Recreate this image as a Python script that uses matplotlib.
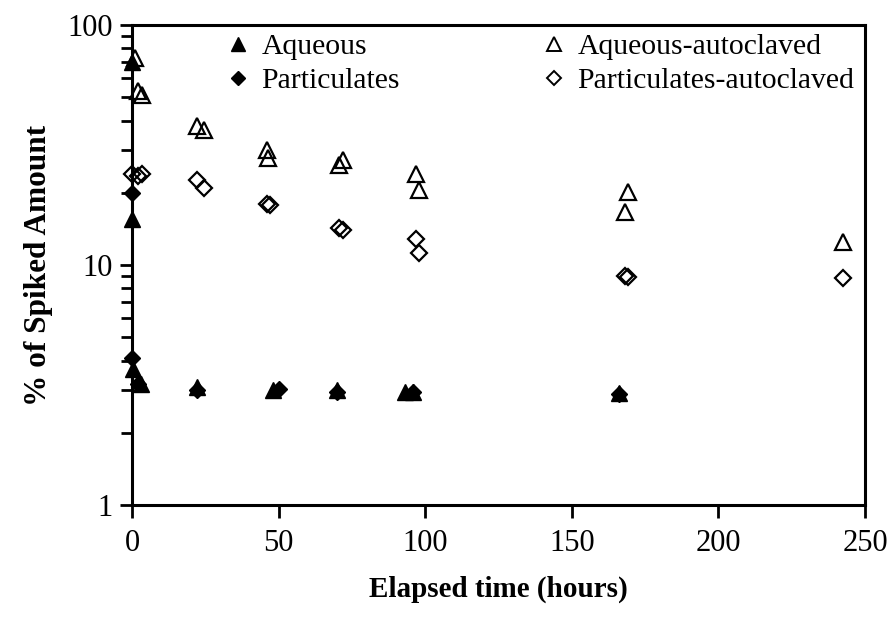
import matplotlib
matplotlib.use("Agg")
import matplotlib.pyplot as plt
from matplotlib.ticker import LogLocator, NullFormatter
from matplotlib.lines import Line2D

plt.rcParams['font.family'] = ['Liberation Serif', 'DejaVu Serif']

# hours, % of spiked amount
aq_x = [0, 0, 0.5, 3, 22, 48, 70, 93, 96, 166]
aq_y = [70, 15.5, 3.7, 3.2, 3.1, 3.0, 3.0, 2.95, 2.95, 2.92]

part_x = [0, 0, 2, 22, 50, 70, 96, 166]
part_y = [20, 4.1, 3.2, 3.0, 3.05, 2.95, 2.95, 2.9]

aq_auto_x = [1, 2, 3.5, 22, 24.5, 46, 46.5, 70.5, 72, 97, 98, 168, 169, 242.5]
aq_auto_y = [73, 53, 51, 38, 36.5, 30, 28, 26, 27.5, 24, 20.5, 16.7, 20.2, 12.5]

part_auto_x = [0, 2, 3.5, 22, 24.5, 46, 47, 70.5, 72, 96.8, 98, 168, 169, 242.5]
part_auto_y = [24, 23.5, 24, 22.6, 20.9, 18, 17.7, 14.3, 14, 12.8, 11.2, 9.0, 8.9, 8.85]

fig = plt.figure(figsize=(8.9, 6.24), dpi=100)
ax = fig.add_axes([132/890, 1 - 505/624, 733/890, 480/624])

ms = 12
ax.plot(aq_auto_x, aq_auto_y, ls='none', marker='^', ms=ms, mfc='none', mec='black', mew=1.6, clip_on=False)
ax.plot(part_auto_x, part_auto_y, ls='none', marker='D', ms=ms*0.72, mfc='none', mec='black', mew=1.6, clip_on=False)
ax.plot(part_x, part_y, ls='none', marker='D', ms=ms*0.72, mfc='black', mec='black', mew=1, clip_on=False)
ax.plot(aq_x, aq_y, ls='none', marker='^', ms=ms, mfc='black', mec='black', mew=1, clip_on=False)

ax.set_xlim(0, 250)
ax.set_yscale('log')
ax.set_ylim(1, 100)
ax.set_xticks([0, 50, 100, 150, 200, 250])
ax.set_yticks([1, 10, 100])
ax.set_yticklabels(['1', '10', '100'])
ax.yaxis.set_minor_locator(LogLocator(base=10, subs=range(2, 10)))
ax.yaxis.set_minor_formatter(NullFormatter())

for s in ax.spines.values():
    s.set_linewidth(2.2)
ax.tick_params(axis='both', which='major', direction='out', length=9, width=2, labelsize=22, pad=8)
ax.tick_params(axis='y', which='minor', direction='out', length=8, width=2)
ax.tick_params(axis='y', which='major', pad=5)

ax.set_xlabel('Elapsed time (hours)', fontsize=21, fontweight='bold', labelpad=13)
ax.set_ylabel('% of Spiked Amount', fontsize=22.5, fontweight='bold', labelpad=10)

lms = 10
h1 = [Line2D([], [], ls='none', marker='^', ms=lms, mfc='black', mec='black'),
      Line2D([], [], ls='none', marker='D', ms=lms*0.72, mfc='black', mec='black')]
h2 = [Line2D([], [], ls='none', marker='^', ms=lms, mfc='none', mec='black', mew=1.4),
      Line2D([], [], ls='none', marker='D', ms=lms*0.72, mfc='none', mec='black', mew=1.4)]
leg_kw = dict(loc='upper left', frameon=False, fontsize=21.3, handlelength=1, handletextpad=0.3,
              labelspacing=0.25, borderpad=0, borderaxespad=0)
leg1 = ax.legend(h1, ['Aqueous', 'Particulates'], bbox_to_anchor=(0.124, 0.982), **leg_kw)
ax.add_artist(leg1)
ax.legend(h2, ['Aqueous-autoclaved', 'Particulates-autoclaved'], bbox_to_anchor=(0.555, 0.982), **leg_kw)

fig.savefig('out.png', dpi=100)
